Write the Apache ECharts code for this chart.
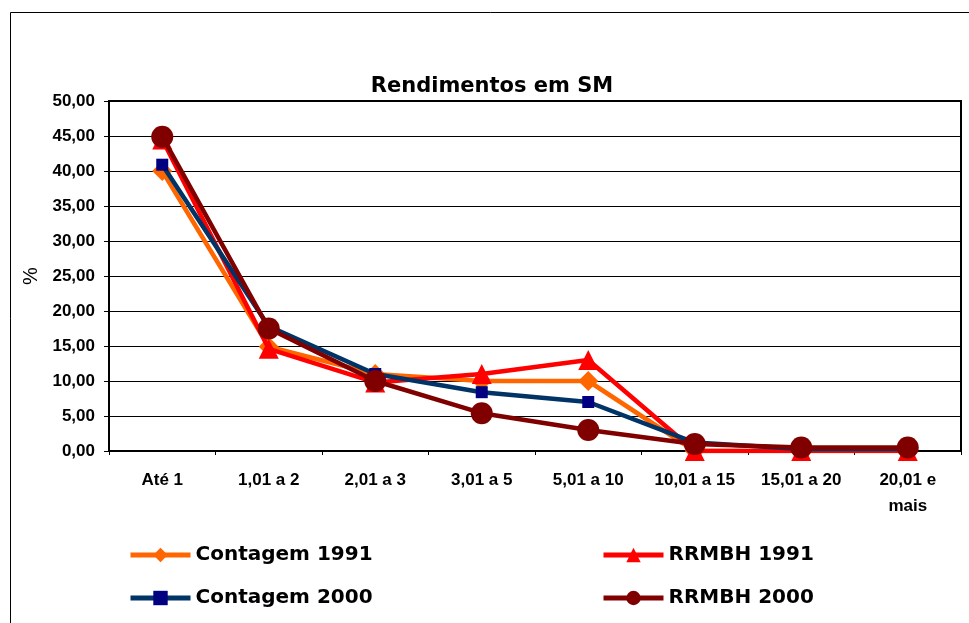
<!DOCTYPE html>
<html>
<head>
<meta charset="utf-8">
<script src="https://cdn.jsdelivr.net/npm/echarts@6/dist/echarts.min.js"></script>
<style>
html,body{margin:0;padding:0;background:#fff;}
#chart{width:969px;height:623px;}
</style>
</head>
<body>
<div id="chart"></div>
<script>
var titleText = 'Rendimentos em SM';
var yAxisName = '%';
var categories = ['Até 1', '1,01 a 2', '2,01 a 3', '3,01 a 5', '5,01 a 10', '10,01 a 15', '15,01 a 20', '20,01 e\nmais'];
var contagem1991 = [40.0, 14.9, 11.0, 10.0, 10.0, 0.0, 0.0, 0.0];
var rrmbh1991 = [44.5, 14.6, 9.8, 11.0, 13.0, 0.0, 0.0, 0.0];
var contagem2000 = [40.9, 17.8, 11.0, 8.4, 7.0, 1.2, 0.3, 0.3];
var rrmbh2000 = [44.9, 17.5, 10.0, 5.4, 3.0, 1.0, 0.5, 0.5];
var seriesNames = ['Contagem 1991', 'RRMBH 1991', 'Contagem 2000', 'RRMBH 2000'];

var chart = echarts.init(document.getElementById('chart'), null, {renderer: 'canvas'});

var legendText = {fontFamily: 'DejaVu Sans', fontWeight: 'bold', fontSize: 20, color: '#000'};
function mkLegend(name, left, top) {
  return {
    data: [name], left: left, top: top, orient: 'horizontal',
    itemWidth: 60, itemHeight: 18, itemGap: 0, textStyle: legendText,
    lineStyle: {width: 5},
    selectedMode: false, padding: 0
  };
}

var option = {
  backgroundColor: '#fff',
  animation: false,
  title: {
    text: titleText, left: 487, top: 71, textAlign: 'center',
    textStyle: {fontFamily: 'DejaVu Sans', fontWeight: 'bold', fontSize: 21, color: '#000'}
  },
  graphic: [{
    type: 'rect', shape: {x: 10.5, y: 12.5, width: 990, height: 640},
    style: {fill: 'none', stroke: '#000', lineWidth: 1}, silent: true, z: -1
  }],
  legend: [
    mkLegend(seriesNames[0], 128, 545),
    mkLegend(seriesNames[1], 601, 545),
    mkLegend(seriesNames[2], 128, 588),
    mkLegend(seriesNames[3], 601, 588)
  ],
  grid: {left: 109, right: 8, top: 101, bottom: 172, show: true, borderColor: '#000', borderWidth: 2, backgroundColor: '#fff'},
  xAxis: {
    type: 'category', data: categories, boundaryGap: true,
    axisLine: {lineStyle: {color: '#000', width: 2}},
    axisTick: {show: true, length: 4, lineStyle: {color: '#000', width: 1}},
    axisLabel: {interval: 0, margin: 16, color: '#000', fontFamily: 'Liberation Sans', fontWeight: 'bold', fontSize: 17, lineHeight: 26}
  },
  yAxis: {
    type: 'value', min: 0, max: 50, interval: 5,
    name: yAxisName, nameLocation: 'middle', nameGap: 67, nameRotate: 90,
    nameTextStyle: {fontFamily: 'Liberation Sans', fontSize: 20, color: '#000'},
    axisLine: {show: true, lineStyle: {color: '#000', width: 2}},
    axisTick: {show: true, inside: false, length: 5, lineStyle: {color: '#000'}},
    axisLabel: {margin: 14, color: '#000', fontFamily: 'Liberation Sans', fontWeight: 'bold', fontSize: 17,
      formatter: function (v) { return v.toFixed(2).replace('.', ','); }},
    splitLine: {show: true, lineStyle: {color: '#000', width: 1}}
  },
  series: [
    {name: seriesNames[0], type: 'line', data: contagem1991, symbol: 'diamond', symbolSize: 20,
      lineStyle: {color: '#FF6600', width: 4.5}, itemStyle: {color: '#FF6600'}, z: 2},
    {name: seriesNames[1], type: 'line', data: rrmbh1991, symbol: 'triangle', symbolSize: 20,
      lineStyle: {color: '#FF0000', width: 4.5}, itemStyle: {color: '#FF0000'}, z: 3},
    {name: seriesNames[2], type: 'line', data: contagem2000, symbol: 'rect', symbolSize: 12,
      lineStyle: {color: '#003366', width: 4.5}, itemStyle: {color: '#000080'}, z: 4},
    {name: seriesNames[3], type: 'line', data: rrmbh2000, symbol: 'circle', symbolSize: 22,
      lineStyle: {color: '#800000', width: 4.5}, itemStyle: {color: '#800000'}, z: 5}
  ]
};
chart.setOption(option);
</script>
</body>
</html>
